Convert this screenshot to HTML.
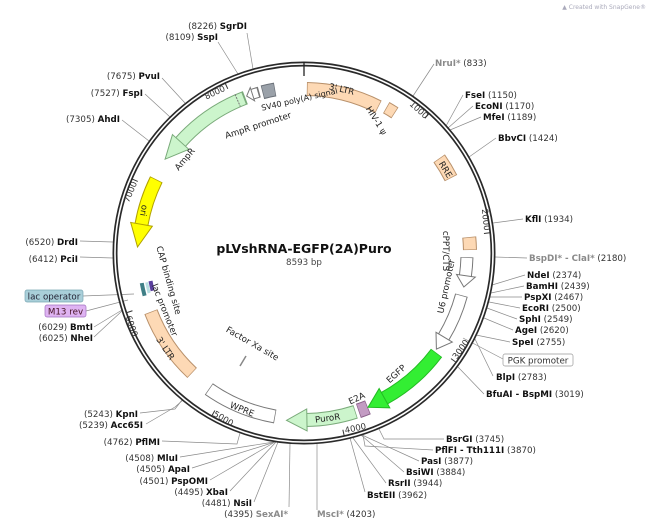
<!DOCTYPE html>
<html><head><meta charset="utf-8"><style>
html,body{margin:0;padding:0;background:#fff;}
svg{display:block;font-family:"DejaVu Sans","Liberation Sans",sans-serif;}
.l{font-size:8.7px;fill:#333;}
.b{font-weight:bold;fill:#111;}
.g{font-weight:bold;fill:#8a8a8a;}
.f{font-size:8.7px;fill:#222;}
.t{font-size:8.5px;fill:#333;}
.ll{stroke:#8a8a8a;stroke-width:0.7;fill:none;}
</style></head><body>
<svg width="649" height="525" viewBox="0 0 649 525" xmlns="http://www.w3.org/2000/svg">
<text x="646" y="9" text-anchor="end" style="font-size:6px;fill:#aab;">▲ Created with SnapGene®</text>

<g class="ll">
<polyline points="413,96 434,64"/>
<polyline points="446,126 463,95"/>
<polyline points="448,128 473,106"/>
<polyline points="450,130 481,117"/>
<polyline points="469,157 496,138"/>
<polyline points="493,223 523,219"/>
<polyline points="495,257 527,258"/>
<polyline points="492,285 525,275"/>
<polyline points="491,293 524,286"/>
<polyline points="490,297 522,297"/>
<polyline points="489,302 520,308"/>
<polyline points="487,308 517,319"/>
<polyline points="484,318 513,330"/>
<polyline points="476,335 510,342"/>
<polyline points="463,338 503,359"/>
<polyline points="475,339 493,376"/>
<polyline points="458,367 484,394"/>
<polyline points="379,429 384,439 444,439"/>
<polyline points="363,435 365,446 433,450"/>
<polyline points="362,435 419,461"/>
<polyline points="361,435 404,472"/>
<polyline points="353,438 386,483"/>
<polyline points="350,438 365,492"/>
<polyline points="317,444 317,510"/>
<polyline points="290,444 289,507"/>
<polyline points="278,442 254,502"/>
<polyline points="276,442 230,491"/>
<polyline points="275,442 210,480"/>
<polyline points="275,442 192,468"/>
<polyline points="274,442 180,457"/>
<polyline points="240,433 237,444 162,441"/>
<polyline points="183,400 175,407 146,424"/>
<polyline points="182,400 175,409 140,413"/>
<polyline points="122,311 94,337"/>
<polyline points="122,310 94,327"/>
<polyline points="86,311 128,300"/>
<polyline points="83,296 134,294"/>
<polyline points="113,258 80,257"/>
<polyline points="113,242 80,241"/>
<polyline points="149,141 122,120"/>
<polyline points="170,117 145,94"/>
<polyline points="185,103 162,78"/>
<polyline points="238,74 218,42"/>
<polyline points="253,69 247,33"/>
</g>

<circle cx="304" cy="253" r="189" fill="none" stroke="#2a2a2a" stroke-width="5"/>
<circle cx="304" cy="253" r="189" fill="none" stroke="#fff" stroke-width="1.6"/>
<line x1="304" y1="62" x2="304" y2="76" stroke="#222" stroke-width="1.3"/>

<g stroke="#333" stroke-width="1">
<line x1="304" y1="66" x2="304" y2="72" transform="rotate(41.9 304 253)"/>
<line x1="304" y1="66" x2="304" y2="72" transform="rotate(83.8 304 253)"/>
<line x1="304" y1="66" x2="304" y2="72" transform="rotate(125.7 304 253)"/>
<line x1="304" y1="66" x2="304" y2="72" transform="rotate(167.6 304 253)"/>
<line x1="304" y1="66" x2="304" y2="72" transform="rotate(209.5 304 253)"/>
<line x1="304" y1="66" x2="304" y2="72" transform="rotate(251.4 304 253)"/>
<line x1="304" y1="66" x2="304" y2="72" transform="rotate(293.3 304 253)"/>
<line x1="304" y1="66" x2="304" y2="72" transform="rotate(335.1 304 253)"/>
</g>
<g class="t" text-anchor="middle">
<text transform="translate(417,112) rotate(42)">1000</text>
<text transform="translate(483,220) rotate(84)">2000</text>
<text transform="translate(463,351) rotate(-54)">3000</text>
<text transform="translate(356,431) rotate(-12)">4000</text>
<text transform="translate(222,421) rotate(30)">5000</text>
<text transform="translate(129,327) rotate(71)">6000</text>
<text transform="translate(133,193) rotate(-67)">7000</text>
<text transform="translate(216,95) rotate(-25)">8000</text>
</g>

<g fill="none">
<circle cx="304" cy="253" r="164" stroke="#b8906a" stroke-width="14" stroke-dasharray="74.4 2000" transform="rotate(-89 304 253)"/>
<circle cx="304" cy="253" r="164" stroke="#fdd9b5" stroke-width="12" stroke-dasharray="73 2000" transform="rotate(-88.75 304 253)"/>
<circle cx="304" cy="253" r="167" stroke="#b8906a" stroke-width="13" stroke-dasharray="10.2 2000" transform="rotate(-60.5 304 253)"/>
<circle cx="304" cy="253" r="167" stroke="#fdd9b5" stroke-width="11" stroke-dasharray="8.8 2000" transform="rotate(-60.25 304 253)"/>
<circle cx="304" cy="253" r="165" stroke="#b8906a" stroke-width="14" stroke-dasharray="23 2000" transform="rotate(-35 304 253)"/>
<circle cx="304" cy="253" r="165" stroke="#fdd9b5" stroke-width="12" stroke-dasharray="21.6 2000" transform="rotate(-34.75 304 253)"/>
<circle cx="304" cy="253" r="166" stroke="#b8906a" stroke-width="14" stroke-dasharray="13 2000" transform="rotate(-5.5 304 253)"/>
<circle cx="304" cy="253" r="166" stroke="#fdd9b5" stroke-width="12" stroke-dasharray="11.6 2000" transform="rotate(-5.25 304 253)"/>
<circle cx="304" cy="253" r="163" stroke="#777" stroke-width="13" stroke-dasharray="18.5 2000" transform="rotate(1.5 304 253)"/>
<circle cx="304" cy="253" r="163" stroke="#fff" stroke-width="11" stroke-dasharray="18.5 2000" transform="rotate(1.75 304 253)"/>
<circle cx="304" cy="253" r="163" stroke="#777" stroke-width="13" stroke-dasharray="45.5 2000" transform="rotate(15 304 253)"/>
<circle cx="304" cy="253" r="163" stroke="#fff" stroke-width="11" stroke-dasharray="45.5 2000" transform="rotate(15.25 304 253)"/>
<circle cx="304" cy="253" r="166" stroke="#22bb22" stroke-width="14" stroke-dasharray="69.5 2000" transform="rotate(37 304 253)"/>
<circle cx="304" cy="253" r="166" stroke="#33ee33" stroke-width="12" stroke-dasharray="69.5 2000" transform="rotate(37.25 304 253)"/>
<circle cx="304" cy="253" r="167" stroke="#8a5f8a" stroke-width="15" stroke-dasharray="10.2 2000" transform="rotate(67.5 304 253)"/>
<circle cx="304" cy="253" r="167" stroke="#c39bc3" stroke-width="13" stroke-dasharray="8.8 2000" transform="rotate(67.75 304 253)"/>
<circle cx="304" cy="253" r="167" stroke="#7aaa7a" stroke-width="14" stroke-dasharray="50 2000" transform="rotate(72 304 253)"/>
<circle cx="304" cy="253" r="167" stroke="#ccf5cc" stroke-width="12" stroke-dasharray="50 2000" transform="rotate(72.25 304 253)"/>
<circle cx="304" cy="253" r="166" stroke="#777" stroke-width="14" stroke-dasharray="72.4 2000" transform="rotate(100 304 253)"/>
<circle cx="304" cy="253" r="166" stroke="#fff" stroke-width="12" stroke-dasharray="71 2000" transform="rotate(100.25 304 253)"/>
<circle cx="304" cy="253" r="164" stroke="#b8906a" stroke-width="14" stroke-dasharray="74.4 2000" transform="rotate(133 304 253)"/>
<circle cx="304" cy="253" r="164" stroke="#fdd9b5" stroke-width="12" stroke-dasharray="73 2000" transform="rotate(133.25 304 253)"/>
<circle cx="304" cy="253" r="165" stroke="#3f7f86" stroke-width="4" stroke-dasharray="13 2000" transform="rotate(165 304 253)"/>
<circle cx="304" cy="253" r="160" stroke="#b9dfe3" stroke-width="3" stroke-dasharray="11 2000" transform="rotate(165.5 304 253)"/>
<circle cx="304" cy="253" r="156" stroke="#5a3f9e" stroke-width="4" stroke-dasharray="10 2000" transform="rotate(166 304 253)"/>
<circle cx="304" cy="253" r="165" stroke="#b0a000" stroke-width="14" stroke-dasharray="47.5 2000" transform="rotate(190 304 253)"/>
<circle cx="304" cy="253" r="165" stroke="#ffff00" stroke-width="12" stroke-dasharray="47.5 2000" transform="rotate(189.75 304 253)"/>
<circle cx="304" cy="253" r="166" stroke="#7aaa7a" stroke-width="14" stroke-dasharray="79.1 2000" transform="rotate(222 304 253)"/>
<circle cx="304" cy="253" r="166" stroke="#ccf5cc" stroke-width="12" stroke-dasharray="78 2000" transform="rotate(221.75 304 253)"/>
<circle cx="304" cy="253" r="167" stroke="#777" stroke-width="11" stroke-dasharray="7.3 2000" transform="rotate(252 304 253)"/>
<circle cx="304" cy="253" r="167" stroke="#fff" stroke-width="9" stroke-dasharray="6.3 2000" transform="rotate(251.8 304 253)"/>
<circle cx="304" cy="253" r="166" stroke="#6a7078" stroke-width="14" stroke-dasharray="13 2000" transform="rotate(255.5 304 253)"/>
<circle cx="304" cy="253" r="166" stroke="#9aa1a9" stroke-width="12" stroke-dasharray="11.6 2000" transform="rotate(255.75 304 253)"/>
</g>
<polygon points="304,80 304,99 315.4,90" fill="#fff" stroke="#777" transform="rotate(98 304 253)"/>
<polygon points="304,80 304,99 318.2,90" fill="#fff" stroke="#777" transform="rotate(121 304 253)"/>
<polygon points="304,76 304,98 322.8,87" fill="#33ee33" stroke="#22bb22" transform="rotate(151 304 253)"/>
<polygon points="304,75 304,97 324.4,86" fill="#ccf5cc" stroke="#7aaa7a" transform="rotate(179 304 253)"/>
<polygon points="304,77 304,99 281,88" fill="#ffff00" stroke="#b0a000" transform="rotate(280 304 253)"/>
<polygon points="304,76 304,98 280.8,87" fill="#ccf5cc" stroke="#7aaa7a" transform="rotate(312 304 253)"/>
<polygon points="304,79 304,93 298,86" fill="#fff" stroke="#777" transform="rotate(342 304 253)"/>
<line x1="304" y1="80" x2="304" y2="93" stroke="#777" stroke-dasharray="2 1" transform="rotate(336.5 304 253)"/>
<line x1="246" y1="356" x2="240" y2="366" stroke="#888" stroke-width="1.5"/>

<g class="f" text-anchor="middle">
<text transform="translate(341,92) rotate(13)">3' LTR</text>
<text transform="translate(374,122) rotate(58)">HIV-1 ψ</text>
<text transform="translate(443,171) rotate(59)">RRE</text>
<text transform="translate(443,251) rotate(90)">cPPT/CTS</text>
<text transform="translate(449,287) rotate(-78)">U6 promoter</text>
<text transform="translate(398,376) rotate(-42)">EGFP</text>
<text transform="translate(358,401) rotate(-25)">E2A</text>
<text transform="translate(328,421) rotate(-8)">PuroR</text>
<text transform="translate(241,412) rotate(22)">WPRE</text>
<text transform="translate(163,350) rotate(56)">3' LTR</text>
<text transform="translate(141,210) rotate(100)">ori</text>
<text transform="translate(187,161) rotate(-50)">AmpR</text>
<text transform="translate(259,128) rotate(-18)">AmpR promoter</text>
<text transform="translate(300,102) rotate(-13)" style="font-size:8px">SV40 poly(A) signal</text>
<text transform="translate(166,281) rotate(74)">CAP binding site</text>
<text transform="translate(162,311) rotate(68)">lac promoter</text>
<text transform="translate(251,346) rotate(30)">Factor Xa site</text>
</g>

<text x="304" y="253" text-anchor="middle" style="font-size:12.5px;font-weight:bold;fill:#111;">pLVshRNA-EGFP(2A)Puro</text>
<text x="304" y="265" text-anchor="middle" style="font-size:8.7px;fill:#444;">8593 bp</text>

<g class="l" text-anchor="end">
<text x="247" y="29">(8226) <tspan class="b">SgrDI</tspan></text>
<text x="218" y="40">(8109) <tspan class="b">SspI</tspan></text>
<text x="160" y="79">(7675) <tspan class="b">PvuI</tspan></text>
<text x="143" y="96">(7527) <tspan class="b">FspI</tspan></text>
<text x="120" y="122">(7305) <tspan class="b">AhdI</tspan></text>
<text x="78" y="245">(6520) <tspan class="b">DrdI</tspan></text>
<text x="78" y="262">(6412) <tspan class="b">PciI</tspan></text>
<text x="93" y="330">(6029) <tspan class="b">BmtI</tspan></text>
<text x="93" y="341">(6025) <tspan class="b">NheI</tspan></text>
<text x="138" y="417">(5243) <tspan class="b">KpnI</tspan></text>
<text x="143" y="428">(5239) <tspan class="b">Acc65I</tspan></text>
<text x="160" y="445">(4762) <tspan class="b">PflMI</tspan></text>
<text x="178" y="461">(4508) <tspan class="b">MluI</tspan></text>
<text x="190" y="472">(4505) <tspan class="b">ApaI</tspan></text>
<text x="208" y="484">(4501) <tspan class="b">PspOMI</tspan></text>
<text x="228" y="495">(4495) <tspan class="b">XbaI</tspan></text>
<text x="252" y="506">(4481) <tspan class="b">NsiI</tspan></text>
<text x="288" y="517">(4395) <tspan class="g">SexAI*</tspan></text>
</g>
<rect x="25" y="290" width="58" height="12" rx="2" fill="#a9cfd9" stroke="#7aa6b3" stroke-width="0.7"/>
<text x="54" y="299.5" text-anchor="middle" class="l" style="fill:#223;">lac operator</text>
<rect x="45" y="305" width="41" height="12" rx="2" fill="#dfb3f2" stroke="#a070c0" stroke-width="0.7"/>
<text x="65.5" y="314.5" text-anchor="middle" class="l" style="fill:#412;">M13 rev</text>

<g class="l">
<text x="435" y="66"><tspan class="g">NruI*</tspan> (833)</text>
<text x="465" y="98"><tspan class="b">FseI</tspan> (1150)</text>
<text x="475" y="109"><tspan class="b">EcoNI</tspan> (1170)</text>
<text x="483" y="120"><tspan class="b">MfeI</tspan> (1189)</text>
<text x="498" y="141"><tspan class="b">BbvCI</tspan> (1424)</text>
<text x="525" y="222"><tspan class="b">KflI</tspan> (1934)</text>
<text x="529" y="261"><tspan class="g">BspDI* - ClaI*</tspan> (2180)</text>
<text x="527" y="278"><tspan class="b">NdeI</tspan> (2374)</text>
<text x="526" y="289"><tspan class="b">BamHI</tspan> (2439)</text>
<text x="524" y="300"><tspan class="b">PspXI</tspan> (2467)</text>
<text x="522" y="311"><tspan class="b">EcoRI</tspan> (2500)</text>
<text x="519" y="322"><tspan class="b">SphI</tspan> (2549)</text>
<text x="515" y="333"><tspan class="b">AgeI</tspan> (2620)</text>
<text x="512" y="345"><tspan class="b">SpeI</tspan> (2755)</text>
<text x="496" y="380"><tspan class="b">BlpI</tspan> (2783)</text>
<text x="486" y="397"><tspan class="b">BfuAI - BspMI</tspan> (3019)</text>
<text x="446" y="442"><tspan class="b">BsrGI</tspan> (3745)</text>
<text x="435" y="453"><tspan class="b">PflFI - Tth111I</tspan> (3870)</text>
<text x="421" y="464"><tspan class="b">PasI</tspan> (3877)</text>
<text x="406" y="475"><tspan class="b">BsiWI</tspan> (3884)</text>
<text x="388" y="486"><tspan class="b">RsrII</tspan> (3944)</text>
<text x="367" y="498"><tspan class="b">BstEII</tspan> (3962)</text>
<text x="317" y="517"><tspan class="g">MscI*</tspan> (4203)</text>
</g>
<rect x="503" y="354" width="70" height="12" rx="2" fill="#fff" stroke="#999" stroke-width="0.7"/>
<text x="538" y="363.5" text-anchor="middle" class="l">PGK promoter</text>
</svg>
</body></html>
